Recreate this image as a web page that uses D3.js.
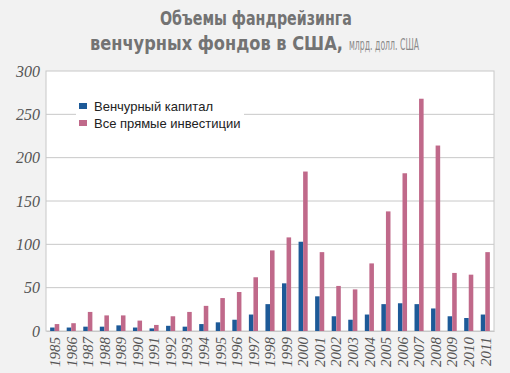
<!DOCTYPE html>
<html>
<head>
<meta charset="utf-8">
<script src="https://cdn.jsdelivr.net/npm/d3@7"></script>
<style>
  body { margin: 0; background: #f2f2f2; }
  svg { display: block; }
</style>
</head>
<body>
<div id="chart"></div>
<script>
// data
var years = ["1985","1986","1987","1988","1989","1990","1991","1992","1993","1994","1995","1996","1997",
  "1998","1999","2000","2001","2002","2003","2004","2005","2006","2007","2008","2009","2010","2011"];
var venture = [4, 4, 5, 5, 6.5, 4, 3, 6, 5, 8, 10, 13, 19, 31, 55, 103, 40, 17, 13, 19, 31, 32, 31, 26, 17, 15, 19];
var privateEq = [8, 9, 22, 18, 18, 12, 7, 17, 22, 29, 38, 45, 62, 93, 108, 184, 91, 52, 48, 78, 138, 182, 268, 214, 67, 65, 91];
var yTicks = [0, 50, 100, 150, 200, 250, 300];
var seriesNames = ["Венчурный капитал", "Все прямые инвестиции"];
var colors = ["#1d5a98", "#c0698a"];

var svgWidth = 510, svgHeight = 373;
var margin = { top: 71, right: 16, bottom: 42, left: 46 };
var width = svgWidth - margin.left - margin.right;
var height = svgHeight - margin.top - margin.bottom;

var svg = d3.select("#chart").append("svg")
  .attr("width", svgWidth)
  .attr("height", svgHeight);

// title, squeezed horizontally to look like a condensed face
function titleText(x, y, w, size, weight, fill, txt) {
  var t = svg.append("text")
    .style("font-family", "'DejaVu Sans', sans-serif")
    .style("font-size", size + "px")
    .style("font-weight", weight)
    .style("fill", fill)
    .text(txt);
  var len = t.node().getComputedTextLength();
  t.attr("transform", `translate(${x},${y}) scale(${w / len},1)`);
}
titleText(160, 25, 192, 19, "bold", "#737373", "Объемы фандрейзинга");
titleText(90, 50, 253, 19, "bold", "#737373", "венчурных фондов в США,");
titleText(349, 50, 70, 15, "normal", "#8a8a8a", "млрд. долл. США");

var g = svg.append("g").attr("transform", `translate(${margin.left}, ${margin.top})`);

g.append("rect")
  .attr("width", width).attr("height", height)
  .style("fill", "#ffffff")
  .style("stroke", "#c8c8c8");

var x = d3.scaleBand().domain(years).range([0, width]).paddingInner(0.45).paddingOuter(0.25);
var xSub = d3.scaleBand().domain([0, 1]).range([0, x.bandwidth()]);
var y = d3.scaleLinear().domain([0, 300]).range([height, 0]);

// gridlines
g.selectAll(".grid").data(yTicks.slice(1, -1)).enter().append("line")
  .attr("x1", 0).attr("x2", width)
  .attr("y1", d => y(d)).attr("y2", d => y(d))
  .style("stroke", "#c8c8c8");

// bars
var groups = g.selectAll(".year").data(years).enter().append("g")
  .attr("transform", d => `translate(${x(d)},0)`);
groups.append("rect")
  .attr("x", xSub(0)).attr("width", xSub.bandwidth())
  .attr("y", (d, i) => y(venture[i]))
  .attr("height", (d, i) => height - y(venture[i]))
  .style("fill", colors[0]);
groups.append("rect")
  .attr("x", xSub(1)).attr("width", xSub.bandwidth())
  .attr("y", (d, i) => y(privateEq[i]))
  .attr("height", (d, i) => height - y(privateEq[i]))
  .style("fill", colors[1]);

// axes
var leftAxis = d3.axisLeft(y).tickValues(yTicks).tickSize(0).tickPadding(6);
var yAx = g.append("g").call(leftAxis);
yAx.select(".domain").remove();
yAx.selectAll("text")
  .style("font-family", "'Liberation Serif', 'DejaVu Serif', serif")
  .style("font-style", "italic")
  .style("font-size", "16px")
  .style("fill", "#555");

var bottomAxis = d3.axisBottom(x).tickSize(0);
var xAx = g.append("g").attr("transform", `translate(0, ${height})`).call(bottomAxis);
xAx.select(".domain").style("stroke", "#c8c8c8");
xAx.selectAll("text")
  .attr("transform", "rotate(-90)")
  .attr("x", -6).attr("y", 0).attr("dy", "0.35em")
  .style("text-anchor", "end")
  .style("font-family", "'Liberation Serif', 'DejaVu Serif', serif")
  .style("font-style", "italic")
  .style("font-size", "15px")
  .style("fill", "#555");

// legend
var legend = g.append("g").attr("transform", "translate(30, 24)");
legend.append("rect")
  .attr("x", 0).attr("y", 0).attr("width", 168).attr("height", 38)
  .style("fill", "#ffffff");
seriesNames.forEach(function(name, i) {
  legend.append("rect")
    .attr("x", 3).attr("y", 8 + i * 17).attr("width", 8).attr("height", 6)
    .style("fill", colors[i]);
  legend.append("text")
    .attr("x", 18).attr("y", 15.5 + i * 17)
    .style("font-family", "'Liberation Sans', Arial, sans-serif")
    .style("font-size", "13px")
    .style("fill", "#222")
    .text(name);
});
</script>
</body>
</html>
